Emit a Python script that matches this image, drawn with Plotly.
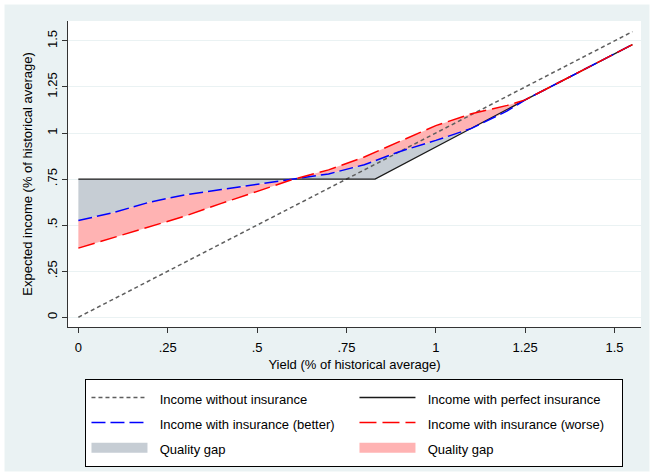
import numpy as np
import plotly.graph_objects as go

# ---- data ----
yield_x = [0, 0.1, 0.2, 0.3, 0.4, 0.5, 0.6, 0.7, 0.8, 0.9, 1.0, 1.1, 1.2, 1.25, 1.55]
income_better = [0.525, 0.569, 0.625, 0.665, 0.693, 0.72, 0.747, 0.778, 0.828, 0.9, 0.96, 1.025, 1.12, 1.18, 1.48]
income_worse = [0.375, 0.432, 0.49, 0.55, 0.618, 0.685, 0.748, 0.80, 0.87, 0.955, 1.04, 1.105, 1.15, 1.18, 1.48]

noins_x = [0, 1.55]
noins_y = [0, 1.55]

perfect_x = [0, 0.83, 1.25, 1.55]
perfect_y = [0.75, 0.75, 1.18, 1.48]

tick_vals = [0, 0.25, 0.5, 0.75, 1, 1.25, 1.5]
tick_text = ["0", ".25", ".5", ".75", "1", "1.25", "1.5"]

# ---- polygons for the quality gaps (x <= 1.25) ----
yx = np.array(yield_x)
mask = yx <= 1.25
bx, by = yx[mask], np.array(income_better)[mask]
wy = np.array(income_worse)[mask]
px_, py_ = np.array(perfect_x), np.array(perfect_y)
pm = px_ <= 1.25

gray_x = list(bx) + list(px_[pm][::-1])
gray_y = list(by) + list(py_[pm][::-1])
pink_x = list(bx) + list(bx[::-1])
pink_y = list(wy) + list(by[::-1])

BLUE = "#0000FF"
RED = "#FF0000"
GRAYFILL = "#C6CDD4"
PINKFILL = "#FFB3B3"
BG = "#EAF2F3"

def lbl(t):
    return '<span style="font-size:13px">&nbsp;&nbsp;' + t + '</span>'

fig = go.Figure()
# filled gaps (legend shown through proxy entries below)
fig.add_trace(go.Scatter(x=gray_x, y=gray_y, fill="toself", fillcolor=GRAYFILL,
                         mode="lines", line=dict(width=0, color=GRAYFILL),
                         showlegend=False, hoverinfo="skip"))
fig.add_trace(go.Scatter(x=pink_x, y=pink_y, fill="toself", fillcolor=PINKFILL,
                         mode="lines", line=dict(width=0, color=PINKFILL),
                         showlegend=False, hoverinfo="skip"))
fig.add_trace(go.Scatter(x=noins_x, y=noins_y, mode="lines",
                         line=dict(color="#5E5E5E", width=1.5, dash="4px,3px"),
                         name=lbl("Income without insurance"), legendrank=1))
fig.add_trace(go.Scatter(x=perfect_x, y=perfect_y, mode="lines",
                         line=dict(color="#1a1a1a", width=1.3),
                         name=lbl("Income with perfect insurance"), legendrank=2))
fig.add_trace(go.Scatter(x=yield_x, y=income_better, mode="lines",
                         line=dict(color=BLUE, width=1.5, dash="14px,5px"),
                         name=lbl("Income with insurance (better)"), legendrank=3))
fig.add_trace(go.Scatter(x=yield_x, y=income_worse, mode="lines",
                         line=dict(color=RED, width=1.5, dash="17px,6px"),
                         name=lbl("Income with insurance (worse)"), legendrank=4))
# legend proxies for the two gap areas
fig.add_trace(go.Scatter(x=[None], y=[None], mode="lines",
                         line=dict(color=GRAYFILL, width=16),
                         name=lbl("Quality gap"), legendrank=5, hoverinfo="skip"))
fig.add_trace(go.Scatter(x=[None], y=[None], mode="lines",
                         line=dict(color=PINKFILL, width=16),
                         name=lbl("Quality gap"), legendrank=6, hoverinfo="skip"))

# white outer frame of the graph region
fx0, fx1 = (0 - 68) / 573, (654 - 68) / 573
fy0, fy1 = (327 - 476) / 306, (327 - 0) / 306

fig.update_layout(
    width=654, height=476,
    margin=dict(l=68, r=13, t=21, b=149, autoexpand=False),
    paper_bgcolor=BG, plot_bgcolor="white",
    font=dict(family="Liberation Sans, Arial, sans-serif", size=13, color="#000"),
    showlegend=True,
    legend=dict(orientation="h", x=0.0305, y=-0.1698, xanchor="left", yanchor="top",
                bgcolor="white", bordercolor="#000", borderwidth=1,
                font=dict(size=17, color="#000"),
                entrywidth=197, entrywidthmode="pixels", itemwidth=56,
                traceorder="normal"),
    shapes=[dict(type="rect", xref="paper", yref="paper", x0=fx0, x1=fx1, y0=fy0, y1=fy1,
                 line=dict(color="white", width=9), fillcolor="rgba(0,0,0,0)", layer="above")],
    xaxis=dict(range=[-0.029, 1.574], tickvals=tick_vals, ticktext=tick_text, automargin=False,
               showgrid=False, zeroline=False, showline=True, linecolor="#333", linewidth=1,
               ticks="outside", ticklen=5, tickcolor="#333", ticklabelstandoff=3,
               tickfont=dict(size=13),
               title=dict(text="Yield (% of historical average)", font=dict(size=13), standoff=6)),
    yaxis=dict(range=[-0.053, 1.608], tickvals=tick_vals, ticktext=tick_text, automargin=False,
               showgrid=True, gridcolor=BG, gridwidth=1, zeroline=False,
               showline=True, linecolor="#333", linewidth=1,
               ticks="outside", ticklen=5, tickcolor="#333", tickangle=-90,
               ticklabelstandoff=0,
               tickfont=dict(size=13),
               title=dict(text="Expected income (% of historical average)", font=dict(size=13), standoff=9)),
)

fig.write_html("out.html", config={"displayModeBar": False},
               post_script="document.body.style.margin='0';")
